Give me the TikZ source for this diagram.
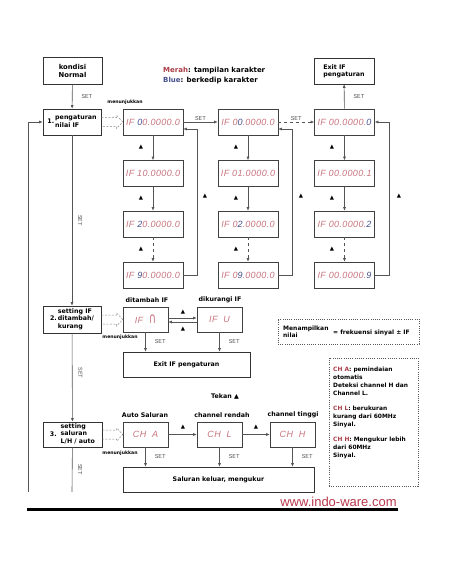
\documentclass[tikz,border=0pt]{standalone}
\usepackage{fontspec}
\usepackage{graphicx}
\setmainfont{DejaVu Sans}
\newfontfamily\lf{DejaVu Sans}
\newfontfamily\df{Liberation Sans}[LetterSpace=4]
\newfontfamily\mf{Liberation Mono}
\newfontfamily\wf{Liberation Sans}
\usetikzlibrary{arrows.meta,calc}
\definecolor{seg}{RGB}{200,115,125}
\definecolor{segb}{RGB}{70,80,140}
\definecolor{lnc}{RGB}{85,85,85}
\definecolor{mer}{RGB}{170,60,70}
\definecolor{web}{RGB}{185,55,75}
\newcommand{\bl}[1]{\textcolor{segb}{#1}}
\begin{document}
\begin{tikzpicture}[x=1pt,y=-1pt,
 box/.style={draw=black!80,line width=0.6pt,minimum width=58pt,minimum height=26pt,inner sep=0pt,align=left,font=\lf\bfseries\fontsize{6.3}{7.4}\selectfont},
 disp/.style={draw=black!75,line width=0.6pt,minimum width=60pt,minimum height=26pt,inner sep=0pt,font=\df\itshape\fontsize{9}{10}\selectfont,text=seg},
 sdisp/.style={disp,minimum width=45pt,minimum height=25pt},
 arr/.style={draw=lnc,line width=0.6pt,-{Latex[length=3.5pt,width=3pt]}},
 lnst/.style={draw=lnc,line width=0.6pt},
 setl/.style={font=\mf\fontsize{6}{7}\selectfont,text=black!65,inner sep=1pt},
 tri/.style={font=\lf\fontsize{5.5}{6}\selectfont,inner sep=0pt},
 lab/.style={font=\lf\bfseries\fontsize{6.3}{7.4}\selectfont,inner sep=0pt},
 smalllab/.style={font=\lf\bfseries\fontsize{4.6}{5}\selectfont,inner sep=0pt},
 hollow/.style={draw=lnc!70,line width=0.5pt,dash pattern=on 2pt off 1.5pt},
 dotbox/.style={draw=black!65,line width=0.6pt,dash pattern=on 1pt off 1.2pt,inner sep=0pt},
]
\useasboundingbox (0,0) rectangle (452,584);

% legend
\node[lab,anchor=west,font=\lf\bfseries\fontsize{7}{8}\selectfont] (leg1) at (163,71) {\textcolor{mer}{Merah}: tampilan karakter};
\node[lab,anchor=west,font=\lf\bfseries\fontsize{7}{8}\selectfont] (leg2) at (163,81) {\textcolor{segb}{Blue}: berkedip karakter};

% left column boxes
\node[box,minimum width=59pt,minimum height=27pt,align=center,font=\lf\bfseries\fontsize{6.8}{8}\selectfont] (norm) at (72.5,70.5) {kondisi\\Normal};
\node[box] (p1) at (72,122) {1.\,\begin{tabular}[c]{@{}l@{}}pengaturan\\nilai IF\end{tabular}};
\node[box,minimum height=27pt] (p2) at (72,319.5) {\begin{tabular}{@{}r@{\,}l@{}} & setting IF\\ 2. & ditambah/\\ & kurang\end{tabular}};
\node[box,minimum width=59pt,minimum height=25pt] (p3) at (72.5,434.5) {3.\hspace{4pt}\begin{tabular}[c]{@{}l@{}}setting\\saluran\\L/H / auto\end{tabular}};

\draw[arr] (norm) -- node[setl,right,xshift=8pt]{SET} (p1);
\draw[arr] (p1) -- node[setl,rotate=-90,yshift=8pt]{SET} (p2);
\draw[arr] (p2) -- node[setl,rotate=-90,yshift=8pt,pos=0.45]{SET} (p3);
\coordinate (p3end) at (72,492);
\draw[lnst] (p3) -- node[setl,rotate=-90,yshift=8pt,pos=0.5]{SET} (p3end);
\coordinate (loopbot) at (28,492);
\draw[arr] (loopbot) |- (p1.west);

% displays grid
\node[disp] (a1) at (153,122) {IF \bl{0}0.0000.0};
\node[disp] (a2) at (153,173.5) {IF 10.0000.0};
\node[disp] (a3) at (153,224) {IF \bl{2}0.0000.0};
\node[disp] (a4) at (153,275) {IF \bl{9}0.0000.0};
\node[disp] (b1) at (248,122) {IF 0\bl{0}.0000.0};
\node[disp] (b2) at (248,173.5) {IF 01.0000.0};
\node[disp] (b3) at (248,224) {IF 0\bl{2}.0000.0};
\node[disp] (b4) at (248,275) {IF 0\bl{9}.0000.0};
\node[disp] (c1) at (344.5,122) {IF 00.0000.\bl{0}};
\node[disp] (c2) at (344.5,173.5) {IF 00.0000.1};
\node[disp] (c3) at (344.5,224) {IF 00.0000.\bl{2}};
\node[disp] (c4) at (344.5,275) {IF 00.0000.\bl{9}};

\foreach \c in {a,b,c}{
  \draw[arr] (\c1) -- (\c2);
  \draw[arr] (\c2) -- (\c3);
  \draw[arr,dashed] (\c3) -- (\c4);
}
\draw[arr] (a1) -- node[setl,above]{SET} (b1);
\draw[arr,dashed] (b1) -- node[setl,above]{SET} (c1);
\draw[arr] (a4.east) -- ++(14,0) |- ($(a1.east)+(0,7)$);
\draw[arr] (b4.east) -- ++(14,0) |- ($(b1.east)+(0,7)$);
\draw[arr] (c4.east) -- ++(14,0) |- (c1.east);

\node[box,minimum width=60pt] (ex1) at (344,71) {Exit IF\\pengaturan};
\draw[arr] (c1) -- node[setl,right,xshift=8pt]{SET} (ex1);

% triangles
\foreach \x/\n in {141/a,236/b,332/c}{
  \foreach \y/\m in {147/1,198/2,249/3}{
    \node[tri] (t\n\m) at (\x,\y) {▲};
  }
}
\node[tri] (ta) at (205,196) {▲};
\node[tri] (tb) at (301,196) {▲};
\node[tri] (tc) at (399,196) {▲};

% hollow arrows
\draw[hollow] ($(p1.east)+(0,-4.5)$) -- ($(a1.west)+(-6,-4.5)$) -- ($(a1.west)+(-6,-6.5)$) -- (a1.west) -- ($(a1.west)+(-6,6.5)$) -- ($(a1.west)+(-6,4.5)$) -- ($(p1.east)+(0,4.5)$);
\node[smalllab] (m1) at (125,102) {menunjukkan};

% middle section
\node[sdisp] (n) at (145.5,319.5) {IF \ {\lf\fontsize{10}{10}\selectfont\scalebox{1}[1.5]{∩}}};
\node[sdisp] (u) at (219.5,319.5) {IF \ U};
\node[lab] (ln) at (147,300) {ditambah IF};
\node[lab] (lu) at (220,300) {dikurangi IF};
\draw[arr] ($(n.east)+(0,-1.5)$) -- ($(u.west)+(0,-1.5)$);
\draw[arr] ($(u.west)+(0,2.5)$) -- ($(n.east)+(0,2.5)$);
\node[tri] (tn1) at (183,312) {▲};
\node[tri] (tn2) at (183,329) {▲};
\draw[hollow] ($(p2.east)+(0,-4.5)$) -- ($(n.west)+(-6,-4.5)$) -- ($(n.west)+(-6,-6.5)$) -- (n.west) -- ($(n.west)+(-6,6.5)$) -- ($(n.west)+(-6,4.5)$) -- ($(p2.east)+(0,4.5)$);
\node[smalllab] (m2) at (120,337) {menunjukkan};
\node[box,minimum width=127pt,minimum height=25pt,align=center] (ex2) at (186.5,364.5) {Exit IF pengaturan};
\draw[arr] (n) -- node[setl,right,xshift=8pt]{SET} (n |- ex2.north);
\draw[arr] (u) -- node[setl,right,xshift=8pt]{SET} (u |- ex2.north);
\node[lab] (tekan) at (225,396) {Tekan ▲};

% bottom section
\node[sdisp] (ca) at (145.5,434.5) {CH \ A};
\node[sdisp] (cl) at (219.5,434.5) {CH \ L};
\node[sdisp] (chh) at (292.5,434.5) {CH \ H};
\node[lab] (lca) at (145,415) {Auto Saluran};
\node[lab] (lcl) at (222,415) {channel rendah};
\node[lab] (lch) at (293,415) {channel tinggi};
\draw[arr] (ca) -- (cl);
\draw[arr] (cl) -- (chh);
\node[tri] (tc1) at (183,427) {▲};
\node[tri] (tc2) at (256,427) {▲};
\draw[hollow] ($(p3.east)+(0,-4.5)$) -- ($(ca.west)+(-6,-4.5)$) -- ($(ca.west)+(-6,-6.5)$) -- (ca.west) -- ($(ca.west)+(-6,6.5)$) -- ($(ca.west)+(-6,4.5)$) -- ($(p3.east)+(0,4.5)$);
\node[smalllab] (m3) at (120,453) {menunjukkan};
\node[box,minimum width=191pt,minimum height=25pt,align=center] (sal) at (218.5,479.5) {Saluran keluar, mengukur};
\draw[arr] (ca) -- node[setl,right,xshift=8pt]{SET} (ca |- sal.north);
\draw[arr] (cl) -- node[setl,right,xshift=8pt]{SET} (cl |- sal.north);
\draw[arr] (chh) -- node[setl,right,xshift=8pt]{SET} (chh |- sal.north);

% right notes
\node[dotbox,minimum width=141pt,minimum height=25pt] (nb1) at (348.5,331.5) {};
\node[lab,anchor=west,align=left,font=\lf\bfseries\fontsize{6}{7}\selectfont] (nb1a) at (283,331.5) {Menampilkan\\nilai};
\node[lab,anchor=west,font=\lf\bfseries\fontsize{6}{7}\selectfont] (nb1b) at (333,332.5) {= frekuensi sinyal ± IF};
\node[dotbox,minimum width=89pt,minimum height=128pt] (nb2) at (373.5,422) {};
\node[lab,anchor=north west,align=left,font=\lf\bfseries\fontsize{5.9}{8}\selectfont] (nb2t) at (333,367) {\textcolor{mer}{CH A}: pemindaian\\otomatis\\Deteksi channel H dan\\Channel L.\\[7pt]\textcolor{mer}{CH L}: berukuran\\kurang dari 60MHz\\Sinyal.\\[7pt]\textcolor{mer}{CH H}: Mengukur lebih\\dari 60MHz\\Sinyal.};

% footer
\node[font=\wf\fontsize{13}{13}\selectfont,text=web,inner sep=0pt] (www) at (338.5,502) {www.indo-ware.com};
\draw[line width=3pt,black] (27,509.5) -- (398,509.5);
\end{tikzpicture}
\end{document}
